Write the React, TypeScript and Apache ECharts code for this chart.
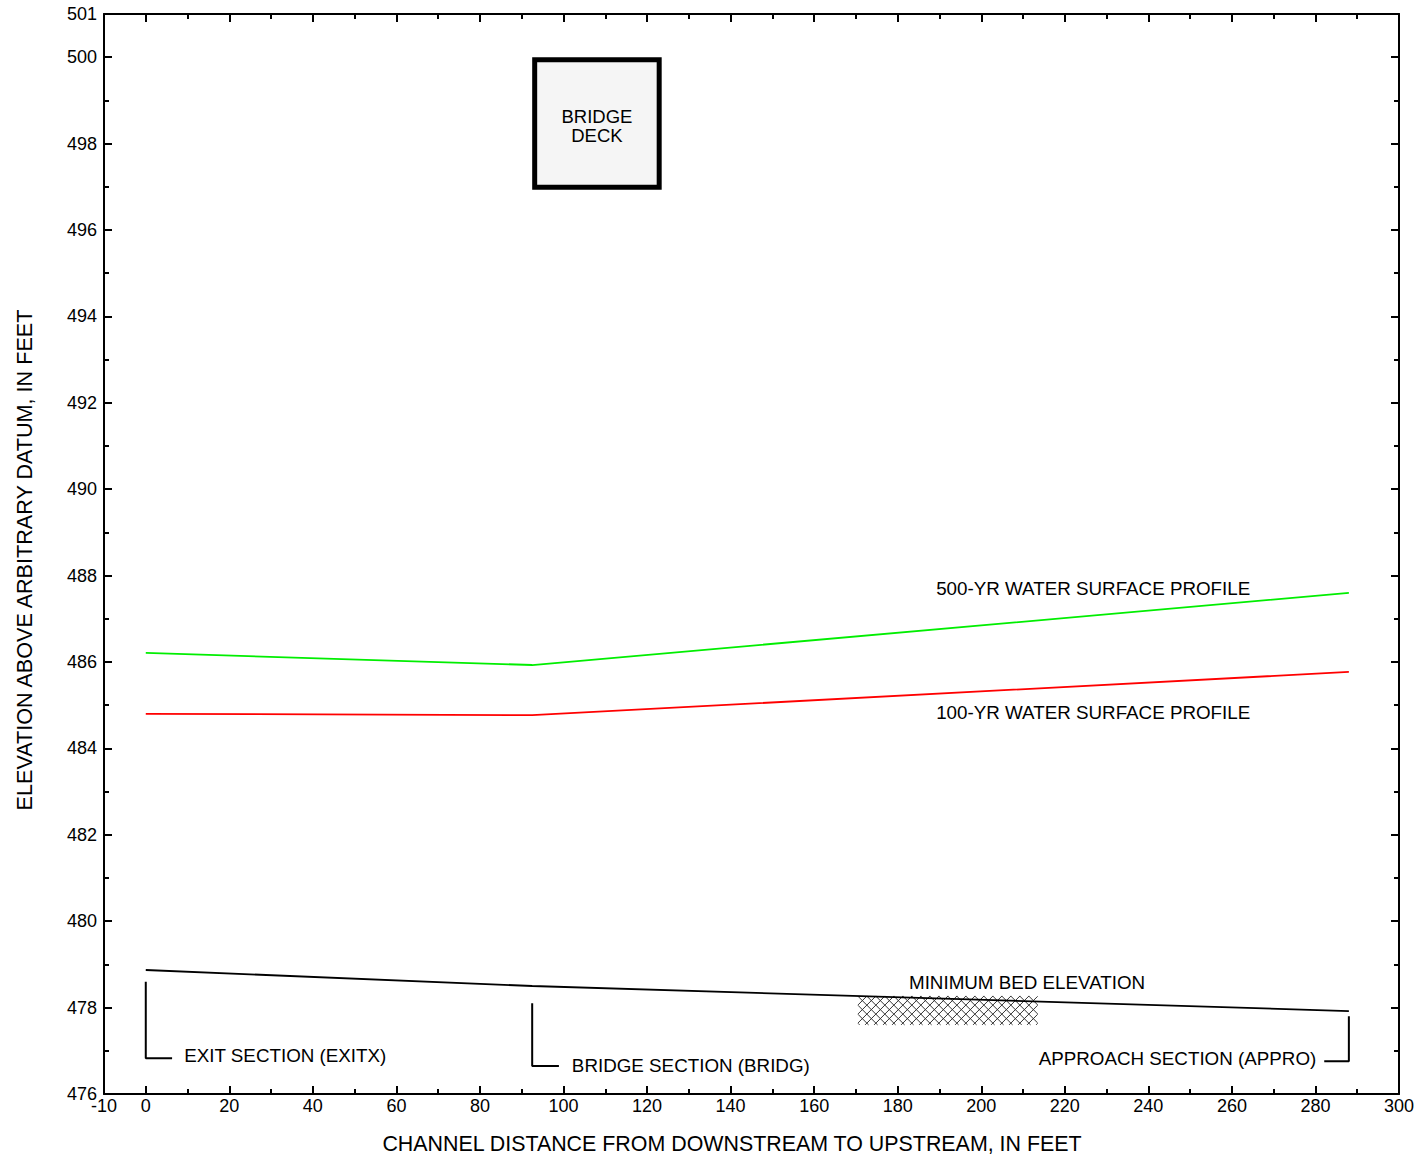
import React, { useEffect, useRef } from 'react';
import * as echarts from 'echarts';

// Cross sections (channel distance, ft)
const stations = [0, 92.5, 288];
const sectionNames = ['EXIT SECTION (EXITX)', 'BRIDGE SECTION (BRIDG)', 'APPROACH SECTION (APPRO)'];
// Elevations at each section
const bedElevation = [478.87, 478.5, 477.92];
const wse100 = [484.8, 484.77, 485.77];
const wse500 = [486.21, 485.93, 487.6];

// Section bracket markers
const bracketTop = [478.6, 478.1, 477.8];
const bracketBottom = [476.83, 476.65, 476.76];
const bracketEnd = [6.3, 98.9, 282.1];
const sectionLabelX = [9.2, 102, 280.2];
const sectionLabelY = [476.88, 476.67, 476.83];
const sectionLabelAlign = ['left', 'left', 'right'];

// Profile labels
const profileNames = ['500-YR WATER SURFACE PROFILE', '100-YR WATER SURFACE PROFILE', 'MINIMUM BED ELEVATION'];
const profileLabelX = [189.2, 189.2, 182.7];
const profileLabelY = [487.71, 484.82, 478.59];

// Bridge deck and scour (hatched) area
const deckX = [92.5, 123.5];
const deckY = [496.93, 500];
const hatchX = [170.5, 213.5];
const hatchY = [477.6, 478.27];

// Axis ticks
const xTickMajor = [0, 20, 40, 60, 80, 100, 120, 140, 160, 180, 200, 220, 240, 260, 280];
const xTickMinor = [10, 30, 50, 70, 90, 110, 130, 150, 170, 190, 210, 230, 250, 270, 290];
const xTickLabels = [-10, 0, 20, 40, 60, 80, 100, 120, 140, 160, 180, 200, 220, 240, 260, 280, 300];
const yTickMajor = [478, 480, 482, 484, 486, 488, 490, 492, 494, 496, 498, 500];
const yTickMinor = [477, 479, 481, 483, 485, 487, 489, 491, 493, 495, 497, 499];
const yTickLabels = [476, 478, 480, 482, 484, 486, 488, 490, 492, 494, 496, 498, 500, 501];

const FONT = '"Liberation Sans", Arial, sans-serif';
const X_MIN = -10, X_MAX = 300, Y_MIN = 476, Y_MAX = 501;

function xAxisDef(position: string, ticks: number[], len: number, showLine: boolean, labels?: number[]) {
  return {
    type: 'value', min: X_MIN, max: X_MAX, position,
    axisLine: { show: showLine, onZero: false, lineStyle: { color: '#000', width: 2 } },
    axisTick: { show: true, inside: true, length: len, customValues: ticks, lineStyle: { color: '#000', width: 2 } },
    axisLabel: labels
      ? { show: true, customValues: labels, color: '#000', fontSize: 18, fontFamily: FONT, margin: 3 }
      : { show: false },
    splitLine: { show: false },
  };
}
function yAxisDef(position: string, ticks: number[], len: number, showLine: boolean, labels?: number[]) {
  return {
    type: 'value', min: Y_MIN, max: Y_MAX, position,
    axisLine: { show: showLine, onZero: false, lineStyle: { color: '#000', width: 2 } },
    axisTick: { show: true, inside: true, length: len, customValues: ticks, lineStyle: { color: '#000', width: 2 } },
    axisLabel: labels
      ? { show: true, customValues: labels, color: '#000', fontSize: 18, fontFamily: FONT, margin: 7 }
      : { show: false },
    splitLine: { show: false },
  };
}

export default function App() {
  const ref = useRef<HTMLDivElement>(null);
  useEffect(() => {
    const chart = echarts.init(ref.current!, null, { renderer: 'svg' });
    const line = (name: string, ys: number[], color: string, width: number) => ({
      name, type: 'line', xAxisIndex: 0, yAxisIndex: 0, symbol: 'none', silent: true,
      data: stations.map((s, i) => [s, ys[i]]),
      lineStyle: { color, width },
    });
    const brackets = stations.map((s, i) => ({
      type: 'line', xAxisIndex: 0, yAxisIndex: 0, symbol: 'none', silent: true,
      data: [[s, bracketTop[i]], [s, bracketBottom[i]], [bracketEnd[i], bracketBottom[i]]],
      lineStyle: { color: '#000', width: 2 },
    }));
    const labelItems = [
      ...profileNames.map((t, i) => ({ t, x: profileLabelX[i], y: profileLabelY[i], a: 'left' })),
      ...sectionNames.map((t, i) => ({ t, x: sectionLabelX[i], y: sectionLabelY[i], a: sectionLabelAlign[i] })),
    ];
    chart.setOption({
      animation: false,
      backgroundColor: '#fff',
      grid: { left: 104, right: 19, top: 14, bottom: 64, containLabel: false },
      xAxis: [
        xAxisDef('bottom', xTickMajor, 8, true, xTickLabels),
        xAxisDef('bottom', xTickMinor, 5, false),
        xAxisDef('top', xTickMajor, 8, true),
        xAxisDef('top', xTickMinor, 5, false),
      ],
      yAxis: [
        yAxisDef('left', yTickMajor, 8, true, yTickLabels),
        yAxisDef('left', yTickMinor, 5, false),
        yAxisDef('right', yTickMajor, 8, true),
        yAxisDef('right', yTickMinor, 5, false),
      ],
      graphic: [
        {
          type: 'text', x: 732, y: 1144,
          style: { text: 'CHANNEL DISTANCE FROM DOWNSTREAM TO UPSTREAM, IN FEET', align: 'center', verticalAlign: 'middle', font: `21.4px ${FONT}`, fill: '#000' },
        },
        {
          type: 'text', x: 24, y: 560, rotation: Math.PI / 2,
          style: { text: 'ELEVATION ABOVE ARBITRARY DATUM, IN FEET', align: 'center', verticalAlign: 'middle', font: `21.6px ${FONT}`, fill: '#000' },
        },
      ],
      series: [
        {
          type: 'custom', xAxisIndex: 0, yAxisIndex: 0, silent: true, clip: false,
          data: [[hatchX[0], hatchY[0], hatchX[1], hatchY[1]]],
          encode: { x: [0, 2], y: [1, 3] },
          renderItem: (params: any, api: any) => {
            const tl = api.coord([api.value(0), api.value(3)]);
            const br = api.coord([api.value(2), api.value(1)]);
            const L = tl[0], T = tl[1], R = br[0], B = br[1];
            const step = 9;
            const children: any[] = [];
            for (let c = T - R; c <= B - L; c += step) {
              const x0 = Math.max(L, T - c), x1 = Math.min(R, B - c);
              if (x1 > x0) children.push({ type: 'line', shape: { x1: x0, y1: x0 + c, x2: x1, y2: x1 + c }, style: { stroke: '#333', lineWidth: 1 } });
            }
            for (let c = L + T; c <= R + B; c += step) {
              const x0 = Math.max(L, c - B), x1 = Math.min(R, c - T);
              if (x1 > x0) children.push({ type: 'line', shape: { x1: x0, y1: c - x0, x2: x1, y2: c - x1 }, style: { stroke: '#333', lineWidth: 1 } });
            }
            return { type: 'group', children };
          },
        },
        line('Minimum bed elevation', bedElevation, '#000', 1.8),
        line('100-yr water surface', wse100, '#ff0000', 1.8),
        line('500-yr water surface', wse500, '#00ee00', 1.8),
        ...brackets,
        {
          type: 'custom', xAxisIndex: 0, yAxisIndex: 0, silent: true, clip: false,
          data: [[deckX[0], deckY[0], deckX[1], deckY[1]]],
          encode: { x: [0, 2], y: [1, 3] },
          renderItem: (params: any, api: any) => {
            const p0 = api.coord([api.value(0), api.value(3)]);
            const p1 = api.coord([api.value(2), api.value(1)]);
            const bw = 5;
            return {
              type: 'group',
              children: [
                { type: 'rect', shape: { x: p0[0] + bw / 2, y: p0[1] + bw / 2, width: p1[0] - p0[0] - bw, height: p1[1] - p0[1] - bw }, style: { fill: '#f5f5f5', stroke: '#000', lineWidth: bw } },
                { type: 'text', x: (p0[0] + p1[0]) / 2, y: (p0[1] + p1[1]) / 2 + 2, style: { text: 'BRIDGE\nDECK', align: 'center', verticalAlign: 'middle', font: `18.5px ${FONT}`, fill: '#000', lineHeight: 19 } },
              ],
            };
          },
        },
        {
          type: 'custom', xAxisIndex: 0, yAxisIndex: 0, silent: true, clip: false,
          data: labelItems.map((d) => [d.x, d.y]),
          renderItem: (params: any, api: any) => {
            const p = api.coord([api.value(0), api.value(1)]);
            const d = labelItems[params.dataIndex];
            return { type: 'text', x: p[0], y: p[1], style: { text: d.t, align: d.a, verticalAlign: 'middle', font: `18.8px ${FONT}`, fill: '#000' } };
          },
        },
      ],
    });
    return () => chart.dispose();
  }, []);
  return <div ref={ref} style={{ position: 'absolute', left: 0, top: 0, width: 1418, height: 1158 }} />;
}
